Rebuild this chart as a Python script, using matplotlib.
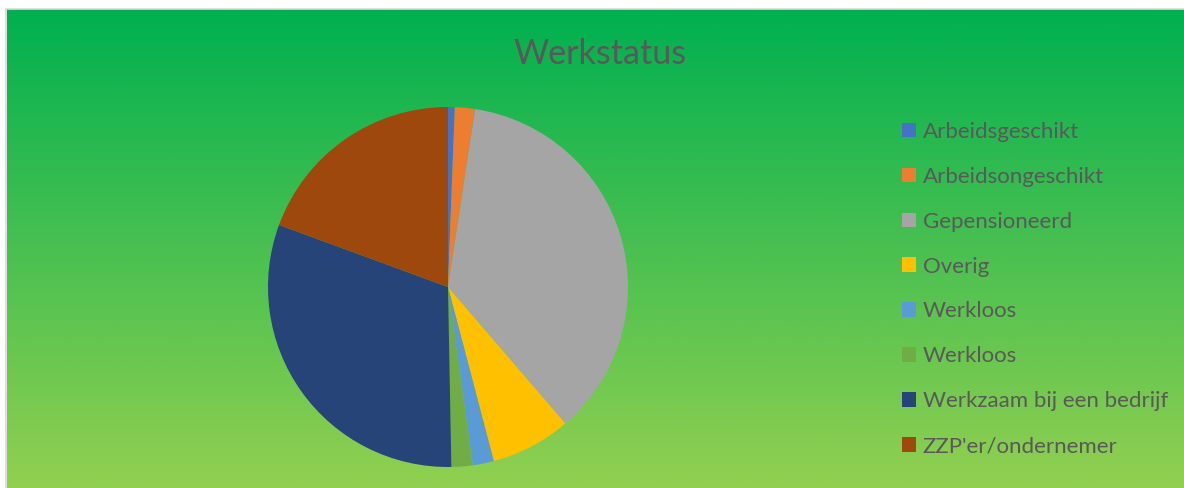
import numpy as np
import matplotlib.pyplot as plt
from matplotlib.colors import LinearSegmentedColormap
from matplotlib.patches import Rectangle

# data (percent of respondents)
labels = ['Arbeidsgeschikt', 'Arbeidsongeschikt', 'Gepensioneerd', 'Overig',
          'Werkloos', 'Werkloos', 'Werkzaam bij een bedrijf', 'ZZP\'er/ondernemer']
values = [0.6, 1.8, 36.3, 7.2, 1.9, 1.9, 30.9, 19.4]
colors = ['#4472C4', '#ED7D31', '#A5A5A5', '#FFC000',
          '#5B9BD5', '#70AD47', '#264478', '#9E480E']

plt.rcParams['font.family'] = ['Lato', 'DejaVu Sans']

W, H = 1184, 488
fig = plt.figure(figsize=(W / 100, H / 100), dpi=100)
fig.patch.set_facecolor('white')

# gradient chart area
x0, y0 = 7, 9
bg = fig.add_axes([x0 / W, 0, (W - x0) / W, (H - y0) / H])
cmap = LinearSegmentedColormap.from_list('g', ['#00B050', '#92D050'])
grad = np.linspace(0, 1, 256).reshape(-1, 1)
bg.imshow(grad, aspect='auto', cmap=cmap, extent=[0, 1, 1, 0])
bg.set_xlim(0, 1)
bg.set_ylim(1, 0)
bg.axis('off')
fig.patches.append(Rectangle((x0 / W - 0.0005, -0.01), 1.1, (H - y0) / H + 0.01,
                             transform=fig.transFigure, fill=False,
                             edgecolor='#D9D9D9', linewidth=1.2))

# pie
cx, cy, r = 448, 287, 180
ax = fig.add_axes([(cx - r) / W, (H - cy - r) / H, 2 * r / W, 2 * r / H])
wedges, _ = ax.pie(values, colors=colors, startangle=90, counterclock=False,
                   radius=1.0, wedgeprops=dict(linewidth=0))
ax.set_xlim(-1, 1)
ax.set_ylim(-1, 1)
ax.set_aspect('auto')
ax.axis('off')

fig.text(600 / W, 1 - 54 / H, 'Werkstatus', ha='center', va='center',
         fontsize=24.5, color='#595959')

leg = fig.legend(wedges, labels, loc='upper left',
                 bbox_to_anchor=(893 / W, 1 - 113 / H), frameon=False,
                 fontsize=16, labelcolor='#595959', handlelength=0.63,
                 handleheight=0.63, handletextpad=0.3, labelspacing=1.12,
                 borderaxespad=0)

fig.savefig('out.png', dpi=100)
